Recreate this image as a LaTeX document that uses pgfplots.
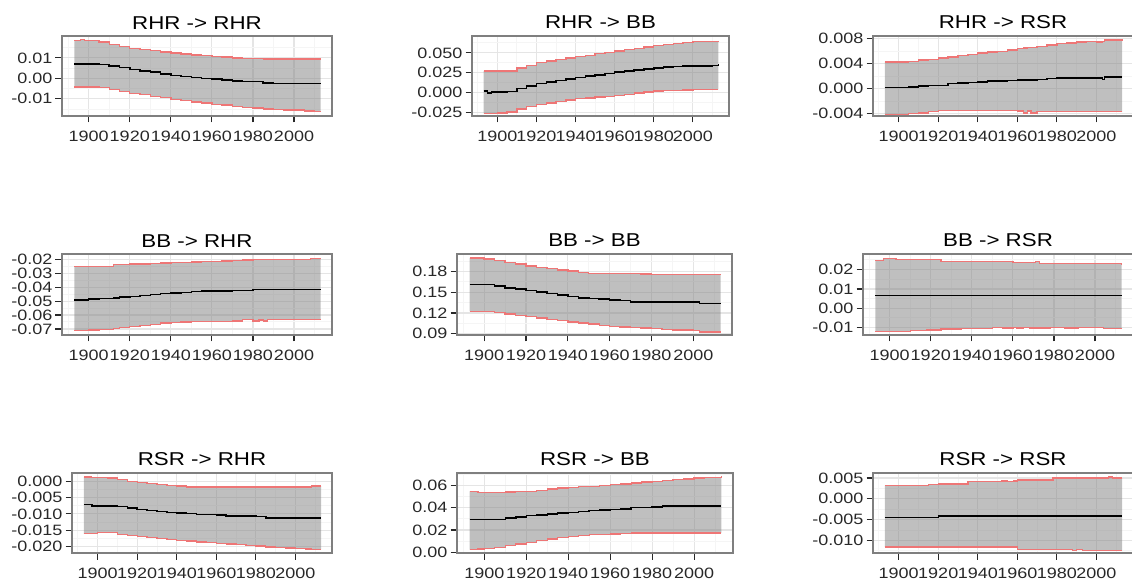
\documentclass[border=0pt]{standalone}
\usepackage{fontspec}
\setmainfont{Liberation Sans}
\usepackage{pgfplots}
\pgfplotsset{compat=1.18}
\usepackage{pgfplotstable}
\usepgfplotslibrary{fillbetween}

\definecolor{redl}{RGB}{238,118,118}
\definecolor{gmaj}{RGB}{229,229,229}
\definecolor{gmin}{RGB}{245,245,245}
\definecolor{bord}{RGB}{127,127,127}
\definecolor{tickc}{RGB}{40,40,40}

\pgfplotstableread{
year lo mid hi
1893 -0.0042 0.0071 0.0185
1896 -0.0042 0.0071 0.0190
1898 -0.0043 0.0071 0.0186
1905 -0.0046 0.0068 0.0178
1910 -0.0055 0.0060 0.0165
1915 -0.0065 0.0052 0.0155
1920 -0.0074 0.0044 0.0147
1925 -0.0080 0.0037 0.0140
1930 -0.0088 0.0030 0.0135
1935 -0.0095 0.0022 0.0128
1940 -0.0102 0.0015 0.0124
1945 -0.0108 0.0010 0.0120
1950 -0.0115 0.0005 0.0115
1955 -0.0120 0.0000 0.0111
1960 -0.0127 -0.0002 0.0108
1965 -0.0131 -0.0007 0.0104
1970 -0.0137 -0.0012 0.0099
1975 -0.0141 -0.0015 0.0097
1980 -0.0145 -0.0016 0.0096
1985 -0.0150 -0.0023 0.0095
1990 -0.0152 -0.0024 0.0095
1995 -0.0154 -0.0024 0.0095
2000 -0.0155 -0.0024 0.0095
2005 -0.0160 -0.0024 0.0095
2010 -0.0163 -0.0024 0.0095
2013 -0.0163 -0.0024 0.0095
}\dataA

\pgfplotstableread{
year lo mid hi
1893 -0.0258 0.0021 0.0271
1895 -0.0258 -0.0004 0.0271
1897 -0.0258 0.0010 0.0271
1900 -0.0255 0.0010 0.0271
1905 -0.0240 0.0015 0.0272
1910 -0.0205 0.0050 0.0310
1915 -0.0175 0.0085 0.0345
1920 -0.0148 0.0114 0.0377
1925 -0.0128 0.0135 0.0398
1930 -0.0108 0.0155 0.0418
1935 -0.0092 0.0172 0.0436
1940 -0.0076 0.0190 0.0453
1945 -0.0066 0.0208 0.0470
1950 -0.0055 0.0225 0.0490
1955 -0.0045 0.0240 0.0507
1960 -0.0034 0.0258 0.0525
1965 -0.0020 0.0270 0.0542
1970 -0.0005 0.0285 0.0558
1975 0.0008 0.0300 0.0575
1980 0.0020 0.0310 0.0590
1985 0.0025 0.0320 0.0605
1990 0.0030 0.0330 0.0620
1995 0.0034 0.0333 0.0632
2000 0.0038 0.0335 0.0640
2005 0.0040 0.0335 0.0645
2010 0.0042 0.0340 0.0645
2013 0.0042 0.0360 0.0650
}\dataB

\pgfplotstableread{
year lo mid hi
1893 -0.0041 0.0002 0.0043
1905 -0.0040 0.0003 0.0044
1910 -0.0039 0.0004 0.0046
1915 -0.0037 0.0005 0.0047
1920 -0.0035 0.0005 0.0049
1925 -0.0035 0.0008 0.0051
1930 -0.0035 0.0009 0.0053
1935 -0.0035 0.0010 0.0055
1940 -0.0035 0.0011 0.0057
1945 -0.0035 0.0012 0.0059
1950 -0.0035 0.0012 0.0060
1955 -0.0035 0.0013 0.0062
1960 -0.0036 0.0014 0.0064
1963 -0.0039 0.0014 0.0065
1965 -0.0036 0.0014 0.0066
1967 -0.0039 0.0014 0.0066
1970 -0.0037 0.0015 0.0068
1975 -0.0037 0.0016 0.0070
1980 -0.0037 0.0017 0.0072
1985 -0.0037 0.0017 0.0073
1990 -0.0037 0.0017 0.0075
1995 -0.0037 0.0017 0.0076
2000 -0.0037 0.0017 0.0075
2003 -0.0037 0.0015 0.0076
2004 -0.0037 0.0019 0.0078
2010 -0.0037 0.0019 0.0078
2013 -0.0037 0.0019 0.0077
}\dataC

\pgfplotstableread{
year lo mid hi
1893 -0.0712 -0.0493 -0.0249
1900 -0.0707 -0.0485 -0.0249
1905 -0.0705 -0.0482 -0.0249
1912 -0.0695 -0.0476 -0.0234
1915 -0.0692 -0.0470 -0.0234
1920 -0.0683 -0.0466 -0.0232
1925 -0.0676 -0.0457 -0.0230
1930 -0.0668 -0.0452 -0.0228
1935 -0.0658 -0.0445 -0.0224
1940 -0.0655 -0.0440 -0.0222
1945 -0.0651 -0.0436 -0.0220
1950 -0.0648 -0.0430 -0.0218
1955 -0.0647 -0.0428 -0.0215
1960 -0.0646 -0.0427 -0.0212
1965 -0.0645 -0.0425 -0.0210
1970 -0.0643 -0.0424 -0.0208
1975 -0.0634 -0.0422 -0.0203
1980 -0.0644 -0.0417 -0.0200
1983 -0.0636 -0.0417 -0.0200
1985 -0.0644 -0.0417 -0.0200
1987 -0.0634 -0.0416 -0.0200
1990 -0.0634 -0.0416 -0.0199
2000 -0.0634 -0.0415 -0.0198
2008 -0.0634 -0.0415 -0.0190
2013 -0.0634 -0.0415 -0.0190
}\dataD

\pgfplotstableread{
year lo mid hi
1893 0.1225 0.1613 0.1997
1900 0.1222 0.1613 0.1982
1905 0.1210 0.1588 0.1962
1910 0.1185 0.1560 0.1932
1915 0.1165 0.1545 0.1908
1920 0.1146 0.1525 0.1884
1925 0.1127 0.1505 0.1864
1930 0.1107 0.1485 0.1844
1935 0.1087 0.1460 0.1826
1940 0.1067 0.1436 0.1810
1945 0.1052 0.1420 0.1790
1950 0.1038 0.1410 0.1775
1955 0.1022 0.1400 0.1775
1960 0.1007 0.1390 0.1775
1965 0.0998 0.1380 0.1775
1970 0.0990 0.1360 0.1775
1975 0.0982 0.1360 0.1768
1980 0.0974 0.1360 0.1760
1985 0.0964 0.1360 0.1760
1990 0.0954 0.1360 0.1760
1995 0.0950 0.1360 0.1760
2000 0.0945 0.1360 0.1760
2003 0.0925 0.1338 0.1760
2013 0.0925 0.1338 0.1760
}\dataE

\pgfplotstableread{
year lo mid hi
1893 -0.0121 0.0067 0.0248
1897 -0.0121 0.0067 0.0257
1903 -0.0121 0.0067 0.0252
1910 -0.0116 0.0067 0.0252
1918 -0.0113 0.0067 0.0252
1925 -0.0107 0.0067 0.0243
1935 -0.0105 0.0067 0.0243
1945 -0.0103 0.0067 0.0243
1950 -0.0099 0.0067 0.0243
1955 -0.0101 0.0067 0.0243
1960 -0.0099 0.0067 0.0238
1962 -0.0102 0.0067 0.0236
1965 -0.0099 0.0067 0.0236
1968 -0.0102 0.0067 0.0236
1971 -0.0101 0.0067 0.0241
1973 -0.0101 0.0067 0.0233
1978 -0.0099 0.0067 0.0233
1985 -0.0102 0.0067 0.0232
1992 -0.0099 0.0067 0.0232
2000 -0.0099 0.0067 0.0231
2004 -0.0103 0.0067 0.0231
2013 -0.0103 0.0067 0.0230
}\dataF

\pgfplotstableread{
year lo mid hi
1893 -0.0161 -0.0071 0.0013
1897 -0.0160 -0.0076 0.0012
1900 -0.0158 -0.0076 0.0012
1905 -0.0158 -0.0076 0.0010
1910 -0.0163 -0.0078 0.0005
1915 -0.0166 -0.0082 0.0000
1920 -0.0170 -0.0087 -0.0003
1925 -0.0173 -0.0089 -0.0007
1930 -0.0176 -0.0092 -0.0010
1935 -0.0179 -0.0095 -0.0013
1940 -0.0181 -0.0097 -0.0015
1945 -0.0183 -0.0099 -0.0017
1950 -0.0186 -0.0102 -0.0018
1955 -0.0188 -0.0102 -0.0018
1960 -0.0190 -0.0103 -0.0018
1965 -0.0192 -0.0106 -0.0018
1970 -0.0194 -0.0106 -0.0018
1975 -0.0197 -0.0106 -0.0018
1980 -0.0199 -0.0108 -0.0018
1985 -0.0201 -0.0112 -0.0018
1990 -0.0204 -0.0112 -0.0018
1995 -0.0205 -0.0112 -0.0018
2000 -0.0207 -0.0112 -0.0018
2005 -0.0208 -0.0112 -0.0017
2008 -0.0209 -0.0112 -0.0015
2013 -0.0209 -0.0112 -0.0015
}\dataG

\pgfplotstableread{
year lo mid hi
1893 0.0024 0.0293 0.0546
1897 0.0030 0.0293 0.0534
1900 0.0033 0.0293 0.0534
1905 0.0045 0.0293 0.0535
1910 0.0060 0.0308 0.0540
1915 0.0075 0.0318 0.0542
1920 0.0090 0.0328 0.0546
1925 0.0105 0.0335 0.0556
1930 0.0119 0.0343 0.0567
1935 0.0131 0.0350 0.0575
1940 0.0143 0.0358 0.0582
1945 0.0150 0.0365 0.0587
1950 0.0158 0.0373 0.0591
1955 0.0161 0.0378 0.0598
1960 0.0164 0.0382 0.0606
1965 0.0168 0.0390 0.0613
1970 0.0173 0.0400 0.0621
1975 0.0173 0.0402 0.0628
1980 0.0173 0.0405 0.0636
1985 0.0173 0.0415 0.0643
1990 0.0173 0.0415 0.0651
1995 0.0173 0.0415 0.0658
2000 0.0173 0.0415 0.0666
2005 0.0173 0.0415 0.0670
2010 0.0173 0.0415 0.0672
2013 0.0173 0.0415 0.0680
}\dataH

\pgfplotstableread{
year lo mid hi
1893 -0.0116 -0.0045 0.0032
1915 -0.0116 -0.0045 0.0034
1920 -0.0116 -0.0041 0.0036
1935 -0.0116 -0.0041 0.0041
1952 -0.0116 -0.0041 0.0043
1955 -0.0116 -0.0041 0.0041
1958 -0.0116 -0.0041 0.0043
1960 -0.0122 -0.0041 0.0045
1978 -0.0122 -0.0041 0.0050
1988 -0.0124 -0.0041 0.0050
1990 -0.0122 -0.0041 0.0050
1993 -0.0124 -0.0041 0.0050
2006 -0.0124 -0.0041 0.0052
2008 -0.0124 -0.0041 0.0050
2013 -0.0124 -0.0041 0.0050
}\dataI

\pgfplotsset{
 panel/.style={
  scale only axis, anchor=south west,
  xmin=1887, xmax=2018.5,
  scaled x ticks=false, scaled y ticks=false,
  xtick={1900,1920,1940,1960,1980,2000},
  xticklabels={1900,1920,1940,1960,1980,2000},
  minor xtick={1890,1910,1930,1950,1970,1990,2010},
  grid=both,
  major grid style={draw=gmaj, line width=0.6pt},
  minor grid style={draw=gmin, line width=0.5pt},
  axis line style={draw=bord, line width=0.6pt},
  tick align=outside, tick pos=left,
  major tick length=3.25pt, minor tick length=0pt,
  tick style={draw=tickc, line width=0.6pt},
  tick label style={font=\fontsize{7.5}{8}\selectfont, text=tickc, xscale=1.2},
  xticklabel style={yshift=-0.5pt},
  yticklabel style={xshift=2.2pt},
  every axis title shift=0pt,
  title style={font=\fontsize{9.3}{11}\selectfont, xscale=1.2, at={(0.5,1)}, anchor=south, inner sep=3.3pt},
 },
 band/.style={fill=gray, fill opacity=0.5, draw=none},
 rl/.style={draw=redl, line width=0.7pt, const plot, mark=none},
 ml/.style={draw=black, line width=0.75pt, const plot, mark=none},
}

\newcommand{\panelplots}[2]{%
 \addplot[draw=none, const plot, mark=none, name path=lo#2] table[x=year,y=lo]{#1};
 \addplot[draw=none, const plot, mark=none, name path=hi#2] table[x=year,y=hi]{#1};
 \addplot[band] fill between[of=lo#2 and hi#2];
 \addplot[rl] table[x=year,y=lo]{#1};
 \addplot[rl] table[x=year,y=hi]{#1};
 \addplot[ml] table[x=year,y=mid]{#1};
}

\begin{document}
\begin{tikzpicture}

% Row 1
\begin{axis}[panel, at={(31pt,234.5pt)}, width=135pt, height=40pt,
  title={RHR -> RHR}, ymin=-0.0184, ymax=0.0207,
  ytick={-0.01,0,0.01}, yticklabels={-0.01,0.00,0.01},
  minor ytick={-0.015,-0.005,0.005,0.015}]
\panelplots{\dataA}{a}
\end{axis}

\begin{axis}[panel, at={(236pt,234.5pt)}, width=128.5pt, height=40pt,
  title={RHR -> BB}, ymin=-0.0292, ymax=0.0712,
  ytick={-0.025,0,0.025,0.05}, yticklabels={-0.025,0.000,0.025,0.050},
  minor ytick={-0.0125,0.0125,0.0375,0.0625}]
\panelplots{\dataB}{b}
\end{axis}

\begin{axis}[panel, at={(436.5pt,234.5pt)}, width=130pt, height=40pt,
  title={RHR -> RSR}, ymin=-0.00438, ymax=0.00844,
  ytick={-0.004,0,0.004,0.008}, yticklabels={-0.004,0.000,0.004,0.008},
  minor ytick={-0.002,0.002,0.006}]
\panelplots{\dataC}{c}
\end{axis}

% Row 2
\begin{axis}[panel, at={(31pt,125pt)}, width=135pt, height=40.5pt,
  title={BB -> RHR}, ymin=-0.0744, ymax=-0.0159,
  ytick={-0.07,-0.06,-0.05,-0.04,-0.03,-0.02},
  yticklabels={-0.07,-0.06,-0.05,-0.04,-0.03,-0.02},
  minor ytick={-0.065,-0.055,-0.045,-0.035,-0.025}]
\panelplots{\dataD}{d}
\end{axis}

\begin{axis}[panel, at={(228.5pt,125pt)}, width=137.5pt, height=40.5pt,
  title={BB -> BB}, ymin=0.088, ymax=0.2056,
  ytick={0.09,0.12,0.15,0.18}, yticklabels={0.09,0.12,0.15,0.18},
  minor ytick={0.105,0.135,0.165,0.195}]
\panelplots{\dataE}{e}
\end{axis}

\begin{axis}[panel, at={(431.5pt,125pt)}, width=135pt, height=40.5pt,
  title={BB -> RSR}, ymin=-0.0138, ymax=0.0281,
  ytick={-0.01,0,0.01,0.02}, yticklabels={-0.01,0.00,0.01,0.02},
  minor ytick={-0.005,0.005,0.015,0.025}]
\panelplots{\dataF}{f}
\end{axis}

% Row 3
\begin{axis}[panel, at={(36pt,16pt)}, width=130pt, height=40pt,
  title={RSR -> RHR}, ymin=-0.022, ymax=0.00255,
  ytick={-0.02,-0.015,-0.01,-0.005,0}, yticklabels={-0.020,-0.015,-0.010,-0.005,0.000},
  minor ytick={-0.0175,-0.0125,-0.0075,-0.0025}]
\panelplots{\dataG}{g}
\end{axis}

\begin{axis}[panel, at={(228.5pt,16pt)}, width=138pt, height=40pt,
  title={RSR -> BB}, ymin=-0.0006, ymax=0.071,
  ytick={0,0.02,0.04,0.06}, yticklabels={0.00,0.02,0.04,0.06},
  minor ytick={0.01,0.03,0.05,0.07}]
\panelplots{\dataH}{h}
\end{axis}

\begin{axis}[panel, at={(436.5pt,16pt)}, width=130pt, height=40pt,
  title={RSR -> RSR}, ymin=-0.013, ymax=0.0062,
  ytick={-0.01,-0.005,0,0.005}, yticklabels={-0.010,-0.005,0.000,0.005},
  minor ytick={-0.0125,-0.0075,-0.0025,0.0025}]
\panelplots{\dataI}{i}
\end{axis}

\pgfresetboundingbox
\path[use as bounding box] (0,0) rectangle (566pt,292.5pt);
\end{tikzpicture}
\end{document}
